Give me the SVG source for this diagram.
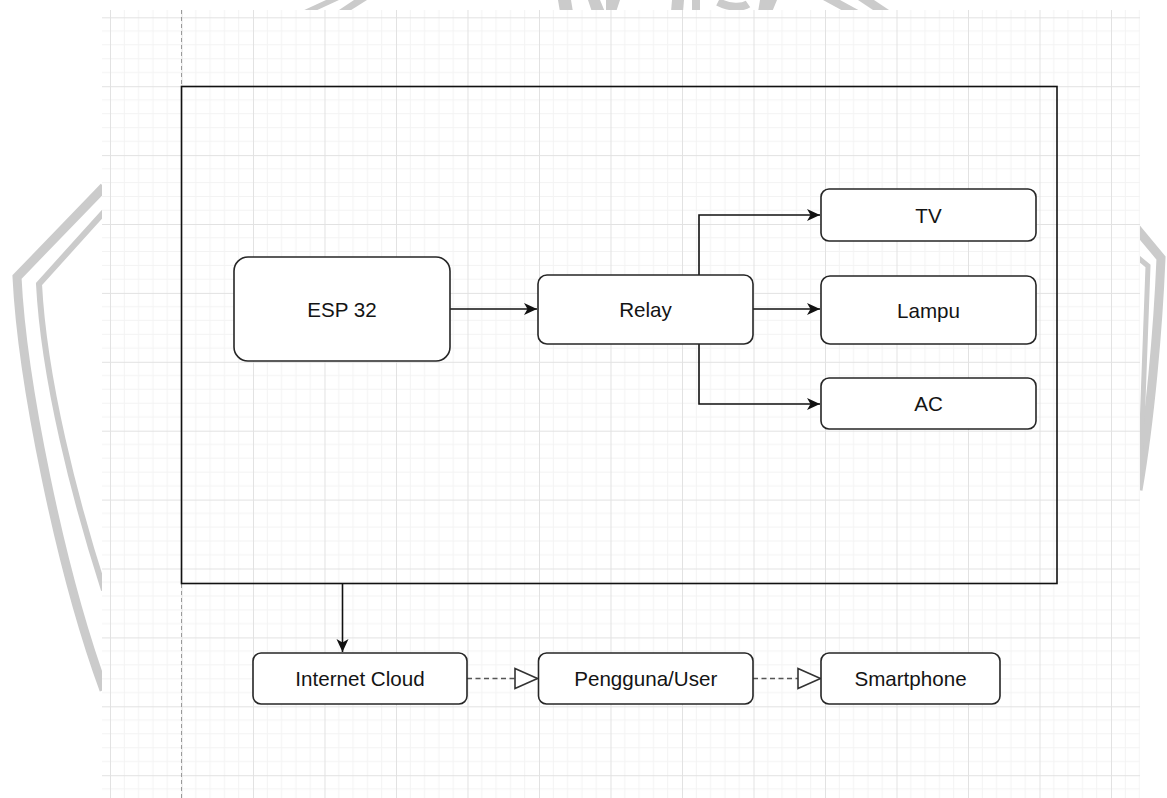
<svg xmlns="http://www.w3.org/2000/svg" width="1167" height="798" viewBox="0 0 1167 798">
<style>
.wm{fill:none;stroke:#cbcbcb;stroke-linejoin:miter}
.wmf{fill:#cbcbcb}
.node{fill:#fff;stroke:#262626;stroke-width:1.6}
.lbl{font-family:"Liberation Sans",Arial,sans-serif;font-size:20.6px;fill:#141414;text-anchor:middle}
.edge{fill:none;stroke:#111;stroke-width:1.6}
.dash{fill:none;stroke:#555;stroke-width:1.6;stroke-dasharray:5 3.5}
</style>
<defs>
<pattern id="grid" patternUnits="userSpaceOnUse" x="110" y="17.3" width="71.5" height="68.9">
<g stroke="#f3f3f3" stroke-width="1">
<path d="M14.3 0V68.9M28.6 0V68.9M42.9 0V68.9M57.2 0V68.9"/>
<path d="M0 13.78H71.5M0 27.56H71.5M0 41.34H71.5M0 55.12H71.5"/>
</g>
<g stroke="#e2e2e2" stroke-width="1">
<path d="M0.5 0V68.9M0 0.5H71.5"/>
</g>
</pattern>
<marker id="arr" markerUnits="userSpaceOnUse" markerWidth="14" markerHeight="13" refX="13" refY="6" orient="auto" viewBox="0 0 14 12">
<path d="M0,0 L13,6 L0,12 L3.5,6 Z" fill="#111"/>
</marker>
<marker id="tri" markerUnits="userSpaceOnUse" markerWidth="26" markerHeight="24" refX="24" refY="11" orient="auto" viewBox="0 0 26 22">
<path d="M1.5,1 L24,11 L1.5,21 Z" fill="#fff" stroke="#333" stroke-width="1.6"/>
</marker>
</defs>
<rect width="1167" height="798" fill="#fff"/>
<g id="watermark">
<path class="wm" stroke-width="9" d="M104,187 L17,277 C22,380 60,570 104,690"/>
<path class="wm" stroke-width="6" d="M104,212 L39,284 C44,380 75,500 104,590"/>
<path class="wm" stroke-width="9" d="M1136,228 L1161,258 C1158,330 1150,420 1138,490"/>
<path class="wm" stroke-width="5" d="M1136,256 L1148,266 L1140,482"/>
<polygon class="wmf" points="326,0 339,0 313,12 300,12"/>
<polygon class="wmf" points="354,0 367,0 348,12 336,12"/>
<polygon class="wmf" points="558,0 571,0 573,12 560,12"/>
<polygon class="wmf" points="588,0 600,0 605,12 592,12"/>
<polygon class="wmf" points="606,0 620,0 616,12 606,12"/>
<polygon class="wmf" points="672,0 684,0 683,12 671,12"/>
<polygon class="wmf" points="692,0 700,0 700,12 692,12"/>
<path class="wm" stroke-width="8" d="M718,2 C730,8 742,8 748,4"/>
<polygon class="wmf" points="760,0 777,0 772,12 758,12"/>
<polygon class="wmf" points="823,0 840,0 862,12 845,12"/>
<polygon class="wmf" points="858,0 874,0 892,12 876,12"/>
</g>
<rect x="102" y="10" width="1038" height="788" fill="#fff"/>
<rect x="102" y="10" width="1038" height="788" fill="url(#grid)"/>
<path d="M181.5 10V798" stroke="#9a9a9a" stroke-width="1" stroke-dasharray="4 3" fill="none"/>
<g id="container">
<rect x="181.5" y="86.5" width="875.5" height="497" fill="none" stroke="#111" stroke-width="1.6"/>
</g>
<g id="connectors">
<path class="edge" d="M450 309H537" marker-end="url(#arr)"/>
<path class="edge" d="M753 309H820" marker-end="url(#arr)"/>
<path class="edge" d="M699 275V215H820" marker-end="url(#arr)"/>
<path class="edge" d="M699 344V404H820" marker-end="url(#arr)"/>
<path class="edge" d="M342.5 584V652" marker-end="url(#arr)"/>
<path class="dash" d="M467 678.5H537.5" marker-end="url(#tri)"/>
<path class="dash" d="M753 678.5H820.5" marker-end="url(#tri)"/>
</g>
<g id="esp32"><rect class="node" x="234" y="257" width="216" height="104" rx="14"/><text class="lbl" x="342" y="316.5">ESP 32</text></g>
<g id="relay"><rect class="node" x="538" y="275" width="215" height="69" rx="9"/><text class="lbl" x="645.5" y="317">Relay</text></g>
<g id="tv"><rect class="node" x="821" y="189" width="215" height="52" rx="8"/><text class="lbl" x="928.5" y="222.5">TV</text></g>
<g id="lampu"><rect class="node" x="821" y="276" width="215" height="68" rx="9"/><text class="lbl" x="928.5" y="317.5">Lampu</text></g>
<g id="ac"><rect class="node" x="821" y="378" width="215" height="51" rx="8"/><text class="lbl" x="928.5" y="411">AC</text></g>
<g id="internet-cloud"><rect class="node" x="253" y="653" width="214" height="51" rx="8"/><text class="lbl" x="360" y="686">Internet Cloud</text></g>
<g id="pengguna"><rect class="node" x="538.5" y="653" width="214.5" height="51" rx="8"/><text class="lbl" x="645.75" y="686">Pengguna/User</text></g>
<g id="smartphone"><rect class="node" x="821" y="653" width="179" height="51" rx="8"/><text class="lbl" x="910.5" y="686">Smartphone</text></g>
</svg>
